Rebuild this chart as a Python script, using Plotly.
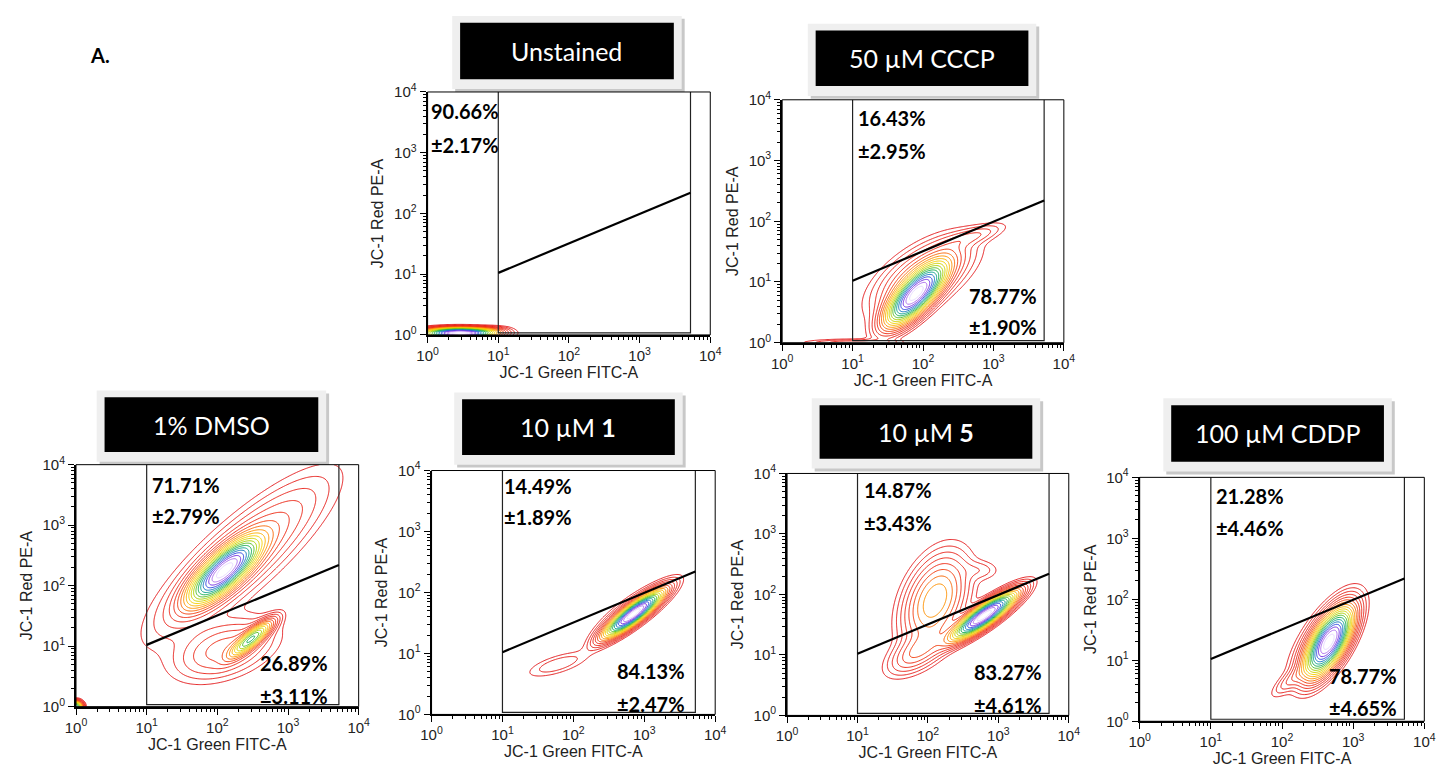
import numpy as np
import plotly.graph_objects as go

W, H = 1456, 780

# ---------------- data ----------------
PANEL_NAMES = ["Unstained", "50 µM CCCP", "1% DMSO", "10 µM <b>1</b>", "10 µM <b>5</b>", "100 µM CDDP"]
UPPER_PCT = ["90.66%", "16.43%", "71.71%", "14.49%", "14.87%", "21.28%"]
UPPER_SD = ["±2.17%", "±2.95%", "±2.79%", "±1.89%", "±3.43%", "±4.46%"]
LOWER_PCT = [None, "78.77%", "26.89%", "84.13%", "83.27%", "78.77%"]
LOWER_SD = [None, "±1.90%", "±3.11%", "±2.47%", "±4.61%", "±4.65%"]

X_TITLE = "JC-1 Green FITC-A"
Y_TITLE = "JC-1 Red PE-A"
DECADES = [1, 10, 100, 1000, 10000]
DECADE_LABELS = ["10<sup>0</sup>", "10<sup>1</sup>", "10<sup>2</sup>", "10<sup>3</sup>", "10<sup>4</sup>"]

# gate (FITC x, PE y)
GATE_X = [10, 5250]
GATE_Y_BOTTOM = 1.08
GATE_Y_TOP = 10000
GATE_DIAG_Y = [10.5, 220]

# cell populations (log10 FITC centre, log10 PE centre, spreads in decades, angle, relative peak)
POP_PANEL = [0, 0,
             1, 1, 1, 1,
             2, 2, 2, 2, 2,
             3, 3, 3,
             4, 4, 4, 4,
             5, 5, 5]
POP_CX = [0.45, 0.80,
          1.90, 2.00, 2.70, 1.00,
          2.10, 2.35, 2.48, 2.10, 0.00,
          2.85, 2.85, 1.78,
          2.80, 2.10, 1.85, 2.75,
          2.66, 2.60, 2.15]
POP_CY = [0.03, 0.06,
          0.80, 1.10, 1.75, 0.00,
          2.25, 2.50, 1.12, 0.95, 0.00,
          1.65, 1.70, 0.82,
          1.65, 1.90, 1.05, 2.40,
          1.30, 1.35, 0.70]
POP_SMAJ = [0.26, 0.18,
            0.32, 0.45, 0.28, 0.40,
            0.36, 0.90, 0.22, 0.42, 0.05,
            0.28, 0.36, 0.28,
            0.30, 0.42, 0.28, 0.16,
            0.31, 0.42, 0.22]
POP_SMIN = [0.045, 0.04,
            0.12, 0.22, 0.08, 0.035,
            0.13, 0.26, 0.065, 0.24, 0.05,
            0.07, 0.11, 0.09,
            0.08, 0.22, 0.14, 0.10,
            0.12, 0.16, 0.07]
POP_ANGLE = [0, 5,
             52, 40, 20, 0,
             48, 47, 45, 25, 0,
             42, 40, 20,
             40, 72, 40, 0,
             65, 60, 45]
POP_WEIGHT = [1.0, 0.05,
              1.0, 0.10, 0.03, 0.03,
              1.0, 0.08, 0.40, 0.06, 0.5,
              1.0, 0.05, 0.02,
              1.0, 0.14, 0.06, 0.015,
              1.0, 0.06, 0.03]

# ---------------- layout (pixels) ----------------
PANEL_BOX = [(423, 83, 710, 332), (783, 91, 1069, 340),
             (66, 465, 353, 713), (427, 471, 715, 721),
             (788, 474, 1074, 722), (1146, 478, 1435, 728)]
TITLE_BOX = [(456, 12, 673, 70), (817, 20, 1033, 77),
             (95, 396, 312, 452), (458, 398, 674, 455),
             (821, 404, 1037, 459), (1178, 404, 1394, 462)]
UPPER_POS = [(426, 103, 137), (860, 110, 143), (143, 486, 518),
             (501, 487, 519), (866, 491, 525), (1223, 497, 530)]
LOWER_POS = [None, (1042, 292, 324), (322, 668, 702),
             (684, 676, 710), (1047, 677, 711), (1407, 682, 714)]

COLORSCALE = [[0.0, '#e31a1c'], [0.24, '#ee2a10'], [0.36, '#ff8c00'], [0.48, '#f5d400'],
              [0.58, '#a8d000'], [0.67, '#18b040'], [0.75, '#10a0a0'], [0.83, '#2050e0'],
              [0.91, '#8a2be2'], [1.0, '#e8d8ff']]

def px(x):
    return x / W

def py(y):
    return 1 - y / H

fig = go.Figure()

g = np.linspace(0, 4, 321)
GX, GY = np.meshgrid(g, g)
shapes = []
annotations = []

for i in range(6):
    sfx = "" if i == 0 else str(i + 1)
    xa, ya = "x" + sfx, "y" + sfx
    x0, y0, x1, y1 = PANEL_BOX[i]

    # density from populations
    dens = np.zeros_like(GX)
    for k, p in enumerate(POP_PANEL):
        if p != i:
            continue
        th = np.deg2rad(POP_ANGLE[k])
        dx, dy = GX - POP_CX[k], GY - POP_CY[k]
        u = (dx * np.cos(th) + dy * np.sin(th)) / POP_SMAJ[k]
        v = (-dx * np.sin(th) + dy * np.cos(th)) / POP_SMIN[k]
        dens += POP_WEIGHT[k] * np.exp(-0.5 * (u * u + v * v))
    z = (dens / dens.max()) ** 0.35

    fig.add_trace(go.Contour(
        x=10 ** g, y=10 ** g, z=z, xaxis=xa, yaxis=ya,
        contours=dict(coloring='lines', start=0.17, end=0.985, size=0.042, showlabels=False),
        line=dict(width=1), colorscale=COLORSCALE, zmin=0.17, zmax=1.0, zauto=False,
        showscale=False, hoverinfo='skip'))

    # gate
    fig.add_trace(go.Scatter(
        x=[GATE_X[0], GATE_X[0], GATE_X[1], GATE_X[1]],
        y=[GATE_Y_TOP, GATE_Y_BOTTOM, GATE_Y_BOTTOM, GATE_Y_TOP],
        mode='lines', line=dict(color='#222222', width=1.2), xaxis=xa, yaxis=ya,
        hoverinfo='skip', showlegend=False))
    fig.add_trace(go.Scatter(
        x=GATE_X, y=GATE_DIAG_Y, mode='lines', line=dict(color='black', width=2.2),
        xaxis=xa, yaxis=ya, hoverinfo='skip', showlegend=False))

    axis_common = dict(
        type='log', range=[0, 4], tickmode='array', tickvals=DECADES, ticktext=DECADE_LABELS,
        ticks='outside', ticklen=6, tickwidth=1.2, tickcolor='black',
        showline=True, linecolor='black', linewidth=2, mirror=False,
        showgrid=False, zeroline=False,
        tickfont=dict(family='Liberation Sans', size=15, color='#222222'),
        minor=dict(tickmode='array', ticks='outside', ticklen=3, tickcolor='black', tickwidth=1,
                   tickvals=[k * 10 ** d for d in range(4) for k in range(2, 10)], showgrid=False),
    )
    fig.update_layout(**{
        ("xaxis" + sfx): dict(axis_common, domain=[px(x0), px(x1)], anchor=ya,
                              title=dict(text=X_TITLE, standoff=2,
                                         font=dict(family='Liberation Sans', size=16, color='#222222'))),
        ("yaxis" + sfx): dict(axis_common, domain=[py(y1), py(y0)], anchor=xa,
                              title=dict(text=Y_TITLE, standoff=6,
                                         font=dict(family='Liberation Sans', size=16, color='#222222'))),
    })

    # frame
    shapes.append(dict(type='rect', xref=xa + ' domain', yref=ya + ' domain', x0=0, x1=1, y0=0, y1=1,
                       line=dict(color='black', width=1), layer='above'))

    # title box
    bx0, by0, bx1, by1 = TITLE_BOX[i]
    shapes.append(dict(type='rect', xref='paper', yref='paper', x0=px(bx0 - 5), x1=px(bx1 + 11),
                       y0=py(by1 + 13), y1=py(by0 - 4), fillcolor='#c8c8c8', line=dict(width=0), layer='below'))
    shapes.append(dict(type='rect', xref='paper', yref='paper', x0=px(bx0 - 8), x1=px(bx1 + 8),
                       y0=py(by1 + 10), y1=py(by0 - 7), fillcolor='#efefef', line=dict(width=0), layer='below'))
    shapes.append(dict(type='rect', xref='paper', yref='paper', x0=px(bx0), x1=px(bx1),
                       y0=py(by1), y1=py(by0), fillcolor='#000000', line=dict(width=0), layer='below'))
    annotations.append(dict(xref='paper', yref='paper', x=px((bx0 + bx1) / 2), y=py((by0 + by1) / 2),
                            text=PANEL_NAMES[i], showarrow=False, xanchor='center', yanchor='middle',
                            font=dict(family='Lato', size=25, color='white')))

    # percentages
    ux, uy1, uy2 = UPPER_POS[i]
    for txt, yy in ((UPPER_PCT[i], uy1), (UPPER_SD[i], uy2)):
        annotations.append(dict(xref='paper', yref='paper', x=px(ux - 2), y=py(yy), text='<b>' + txt + '</b>',
                                showarrow=False, xanchor='left', yanchor='middle',
                                font=dict(family='Lato', size=20, color='black')))
    if LOWER_POS[i] is not None:
        lx, ly1, ly2 = LOWER_POS[i]
        for txt, yy in ((LOWER_PCT[i], ly1), (LOWER_SD[i], ly2)):
            annotations.append(dict(xref='paper', yref='paper', x=px(lx + 2), y=py(yy), text='<b>' + txt + '</b>',
                                    showarrow=False, xanchor='right', yanchor='middle',
                                    font=dict(family='Lato', size=20, color='black')))

annotations.append(dict(xref='paper', yref='paper', x=px(78), y=py(45), text='<b>A.</b>', showarrow=False,
                        xanchor='left', yanchor='middle', font=dict(family='Lato', size=20, color='black')))

fig.update_layout(width=W, height=H, margin=dict(l=0, r=0, t=0, b=0),
                  paper_bgcolor='white', plot_bgcolor='white', showlegend=False,
                  shapes=shapes, annotations=annotations)

fig.write_html("out.html", post_script="document.body.style.margin='0';document.body.style.padding='0';")
